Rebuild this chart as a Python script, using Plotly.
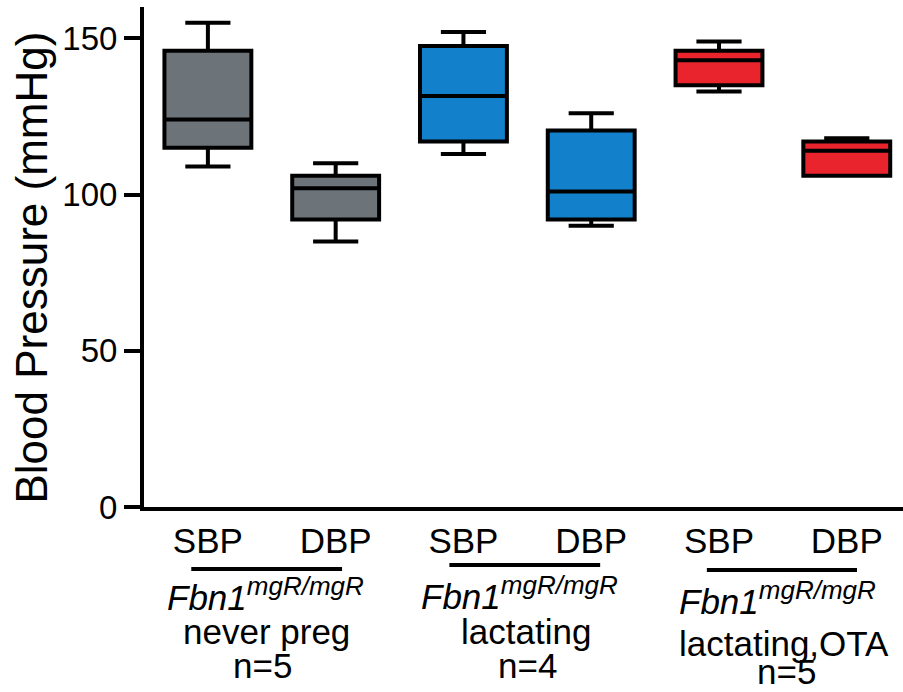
import plotly.graph_objects as go

# ---- data ----
measures = ["SBP", "DBP", "SBP", "DBP", "SBP", "DBP"]
groups = ["never preg", "never preg", "lactating", "lactating", "lactating,OTA", "lactating,OTA"]
whisker_low = [109, 85, 113, 90, 133, 106]
q1_vals = [115, 92, 117, 92, 135, 106]
median_vals = [124, 102, 131.5, 101, 143, 114]
q3_vals = [146, 106, 147.5, 120.5, 146, 117]
whisker_high = [155, 110, 152, 126, 149, 118]
colors = ["#6c7379", "#6c7379", "#1380cb", "#1380cb", "#e9242c", "#e9242c"]

group_names = ["never preg", "lactating", "lactating,OTA"]
group_n = ["n=5", "n=4", "n=5"]
genotype = "<i>Fbn1<sup><span style='font-size:26px'>mgR/mgR</span></sup></i>"
y_ticks = [0, 50, 100, 150]

FONT = "Liberation Sans, Arial, sans-serif"

fig = go.Figure()
for i in range(len(measures)):
    fig.add_trace(go.Box(
        x=[i], q1=[q1_vals[i]], median=[median_vals[i]], q3=[q3_vals[i]],
        lowerfence=[whisker_low[i]], upperfence=[whisker_high[i]],
        width=0.68, whiskerwidth=0.52,
        fillcolor=colors[i], line=dict(color="black", width=4),
        boxpoints=False, showlegend=False, hoverinfo="skip",
    ))

W, H = 903, 692
ml, mr, mt, mb = 144, 0, 7, 185
ph = H - mt - mb


def py(pix):
    # pixel row -> paper y
    return (H - mb - pix) / ph


fig.update_layout(
    width=W, height=H,
    margin=dict(l=ml, r=mr, t=mt, b=mb),
    paper_bgcolor="white", plot_bgcolor="white",
    font=dict(family=FONT, color="black"),
    xaxis=dict(
        range=[-0.5, 5.44], tickmode="array", tickvals=list(range(6)), ticktext=measures,
        showline=True, linecolor="black", linewidth=4, ticks="", showgrid=False,
        zeroline=False, tickfont=dict(size=35, family=FONT, color="black"),
        ticklabelstandoff=0, automargin=False,
    ),
    yaxis=dict(
        range=[0, 160], tickvals=y_ticks, showline=True, linecolor="black", linewidth=4,
        ticks="outside", ticklen=16, tickwidth=4, tickcolor="black", showgrid=False,
        zeroline=False, tickfont=dict(size=33, family=FONT, color="black"),
        automargin=False,
    ),
)

# y-axis title
fig.add_annotation(
    text="Blood Pressure (mmHg)", textangle=-90, showarrow=False,
    xref="paper", yref="paper", x=(31 - ml) / (W - ml - mr), y=py(267.5),
    xanchor="center", yanchor="middle", font=dict(size=44, family=FONT, color="black"),
)

# group underline + labels
line_x = [(-0.13, 1.05), (1.89, 3.07), (3.905, 5.08)]
line_y = [569, 565, 570]
gen_x = [0.45, 2.44, 4.46]
gen_base = [606, 605, 610]
name_x = [0.455, 2.49, 4.51]
name_base = [643, 643, 655]
n_x = [0.43, 2.5, 4.53]
n_base = [677, 677, 683]

for g in range(3):
    fig.add_shape(type="line", xref="x", yref="paper",
                  x0=line_x[g][0], x1=line_x[g][1], y0=py(line_y[g]), y1=py(line_y[g]),
                  line=dict(color="black", width=4))
    for txt, xx, base in [(genotype, gen_x[g], gen_base[g]),
                          (group_names[g], name_x[g], name_base[g]),
                          (group_n[g], n_x[g], n_base[g])]:
        fig.add_annotation(
            text=txt, showarrow=False, xref="x", yref="paper",
            x=xx, y=py(base - 12), xanchor="center", yanchor="middle",
            font=dict(size=35, family=FONT, color="black"),
        )

fig.write_html(
    "out.html",
    config={"displayModeBar": False},
    post_script="document.body.style.margin='0';document.body.style.overflow='hidden';",
)
